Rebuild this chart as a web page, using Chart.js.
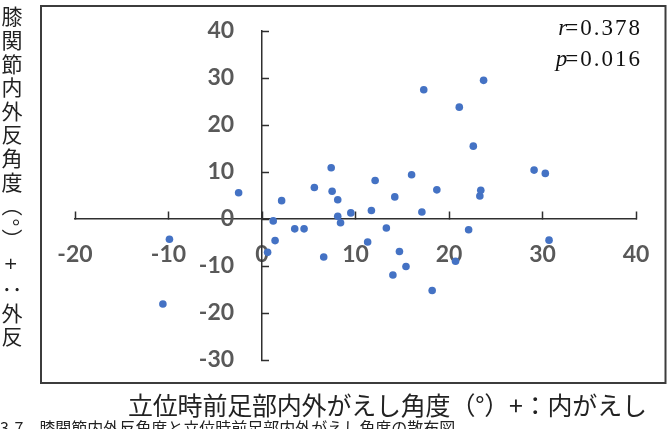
<!DOCTYPE html>
<html lang="ja">
<head>
<meta charset="utf-8">
<script src="https://cdn.jsdelivr.net/npm/chart.js@4.4.1/dist/chart.umd.min.js"></script>
<style>
  html, body { margin: 0; padding: 0; background: #fff; }
  body { width: 669px; height: 429px; position: relative; overflow: hidden; }
  #chart { position: absolute; left: 0; top: 0; }
  .ytitle {
    position: absolute; left: 1px; top: 6px;
    writing-mode: vertical-rl; text-orientation: mixed;
    font-family: "Noto Sans CJK JP", sans-serif; font-size: 21px; letter-spacing: 2.6px;
    line-height: 22px; color: #222;
  }
  .ytitle .sym { margin-inline: 6px; }
  .xtitle {
    position: absolute; left: 128px; top: 390px; white-space: nowrap;
    font-family: "Noto Sans CJK JP", sans-serif; font-size: 25px; line-height: 28px;
    letter-spacing: -0.2px; color: #222;
  }
  .stats {
    position: absolute; right: 27px; top: 13px; text-align: right;
    font-family: "Liberation Serif", serif; font-size: 23px; line-height: 30.5px;
    letter-spacing: 2px; color: #111;
  }
  .stats i { letter-spacing: -2px; }
  .caption {
    position: absolute; left: 0; top: 418px; white-space: nowrap;
    font-family: "Noto Sans CJK JP", sans-serif; font-size: 16px; line-height: 18px; color: #222;
  }
</style>
</head>
<body>
<canvas id="chart" width="669" height="429"></canvas>
<div class="ytitle">膝関節内外反角度（°）<span class="sym">+</span>：外反</div>
<div class="xtitle">立位時前足部内外がえし角度（°）+：内がえし</div>
<div class="stats"><i>r</i>=0.378<br><i>p</i>=0.016</div>
<div class="caption">3-7　膝関節内外反角度と立位時前足部内外がえし角度の散布図</div>
<script>
// 立位時前足部内外がえし角度 (x) / 膝関節内外反角度 (y)
const footAngle = [-10.6, -9.9, -2.5, 0.6, 1.2, 1.4, 2.1, 3.5, 4.5, 5.6,
                   6.6, 7.4, 7.5, 8.1, 8.1, 8.4, 9.5, 11.3, 11.7, 12.1,
                   13.3, 14.0, 14.2, 14.7, 15.4, 16.0, 17.1, 17.3, 18.2, 18.7,
                   20.7, 21.1, 22.1, 22.6, 23.3, 23.4, 23.7, 29.1, 30.3, 30.7];
const kneeAngle = [-18.1, -4.3, 5.6, -7.1, -0.4, -4.6, 3.9, -2.1, -2.1, 6.7,
                   -8.1, 10.9, 5.9, 4.1, 0.6, -0.8, 1.3, -4.9, 1.8, 8.2,
                   -1.9, -11.9, 4.7, -6.9, -10.1, 9.4, 1.5, 27.5, -15.2, 6.2,
                   -9.0, 23.8, -2.3, 15.5, 4.9, 6.1, 29.5, 10.4, 9.7, -4.5];
const xTicks = [-20, -10, 0, 10, 20, 30, 40];
const yTicks = [-30, -20, -10, 0, 10, 20, 30, 40];

const points = footAngle.map((x, i) => ({ x: x, y: kneeAngle[i] }));

const tickFont = { family: 'Lato', size: 23, weight: 'bold' };
const axisColor = '#2f2f2f';

// y labels sit right against the axis when it is placed at x=0, so push them left with spaces
const measureCtx = document.createElement('canvas').getContext('2d');
measureCtx.font = 'bold 23px Lato';
function padLabel(text, gap) {
    let out = text;
    while (measureCtx.measureText(out).width - measureCtx.measureText(text).width < gap) {
        out += ' ';
    }
    return out;
}

const framePlugin = {
    id: 'frame',
    afterDraw(chart) {
        const c = chart.ctx;
        c.save();
        c.strokeStyle = '#3c3c3c';
        c.lineWidth = 2;
        c.strokeRect(41, 6, 624.5, 377);
        c.restore();
    }
};

new Chart(document.getElementById('chart').getContext('2d'), {
    type: 'scatter',
    data: {
        datasets: [{
            data: points,
            backgroundColor: '#4472C4',
            borderColor: '#4472C4',
            borderWidth: 0,
            pointRadius: 3.8,
            pointHoverRadius: 3.8
        }]
    },
    options: {
        responsive: false,
        animation: false,
        devicePixelRatio: 1,
        layout: { autoPadding: false, padding: { left: 75, right: 33, top: 31, bottom: 69 } },
        plugins: { legend: { display: false }, tooltip: { enabled: false } },
        scales: {
            x: {
                type: 'linear',
                min: xTicks[0],
                max: xTicks[xTicks.length - 1],
                position: { y: 0 },
                afterBuildTicks: scale => { scale.ticks = xTicks.map(v => ({ value: v })); },
                // axes cross inside the plot, so they should not take any room from it
                afterFit: scale => {
                    scale.height = 0;
                    scale.paddingLeft = 0;
                    scale.paddingRight = 0;
                },
                ticks: { padding: 30, color: '#595959', font: tickFont, maxRotation: 0, callback: v => String(v) },
                grid: { drawOnChartArea: false, drawTicks: true, tickLength: -8, tickColor: axisColor, tickWidth: 1.5 },
                border: { display: true, color: axisColor, width: 1.5 }
            },
            y: {
                type: 'linear',
                min: yTicks[0],
                max: yTicks[yTicks.length - 1],
                position: { x: 0 },
                afterBuildTicks: scale => { scale.ticks = yTicks.map(v => ({ value: v })); },
                afterFit: scale => {
                    scale.width = 0;
                    scale.paddingTop = 0;
                    scale.paddingBottom = 0;
                },
                ticks: { color: '#595959', font: tickFont, callback: v => padLabel(String(v), 25) },
                grid: { drawOnChartArea: false, drawTicks: true, tickLength: -8, tickColor: axisColor, tickWidth: 1.5 },
                border: { display: true, color: axisColor, width: 1.5 }
            }
        }
    },
    plugins: [framePlugin]
});
</script>
</body>
</html>
